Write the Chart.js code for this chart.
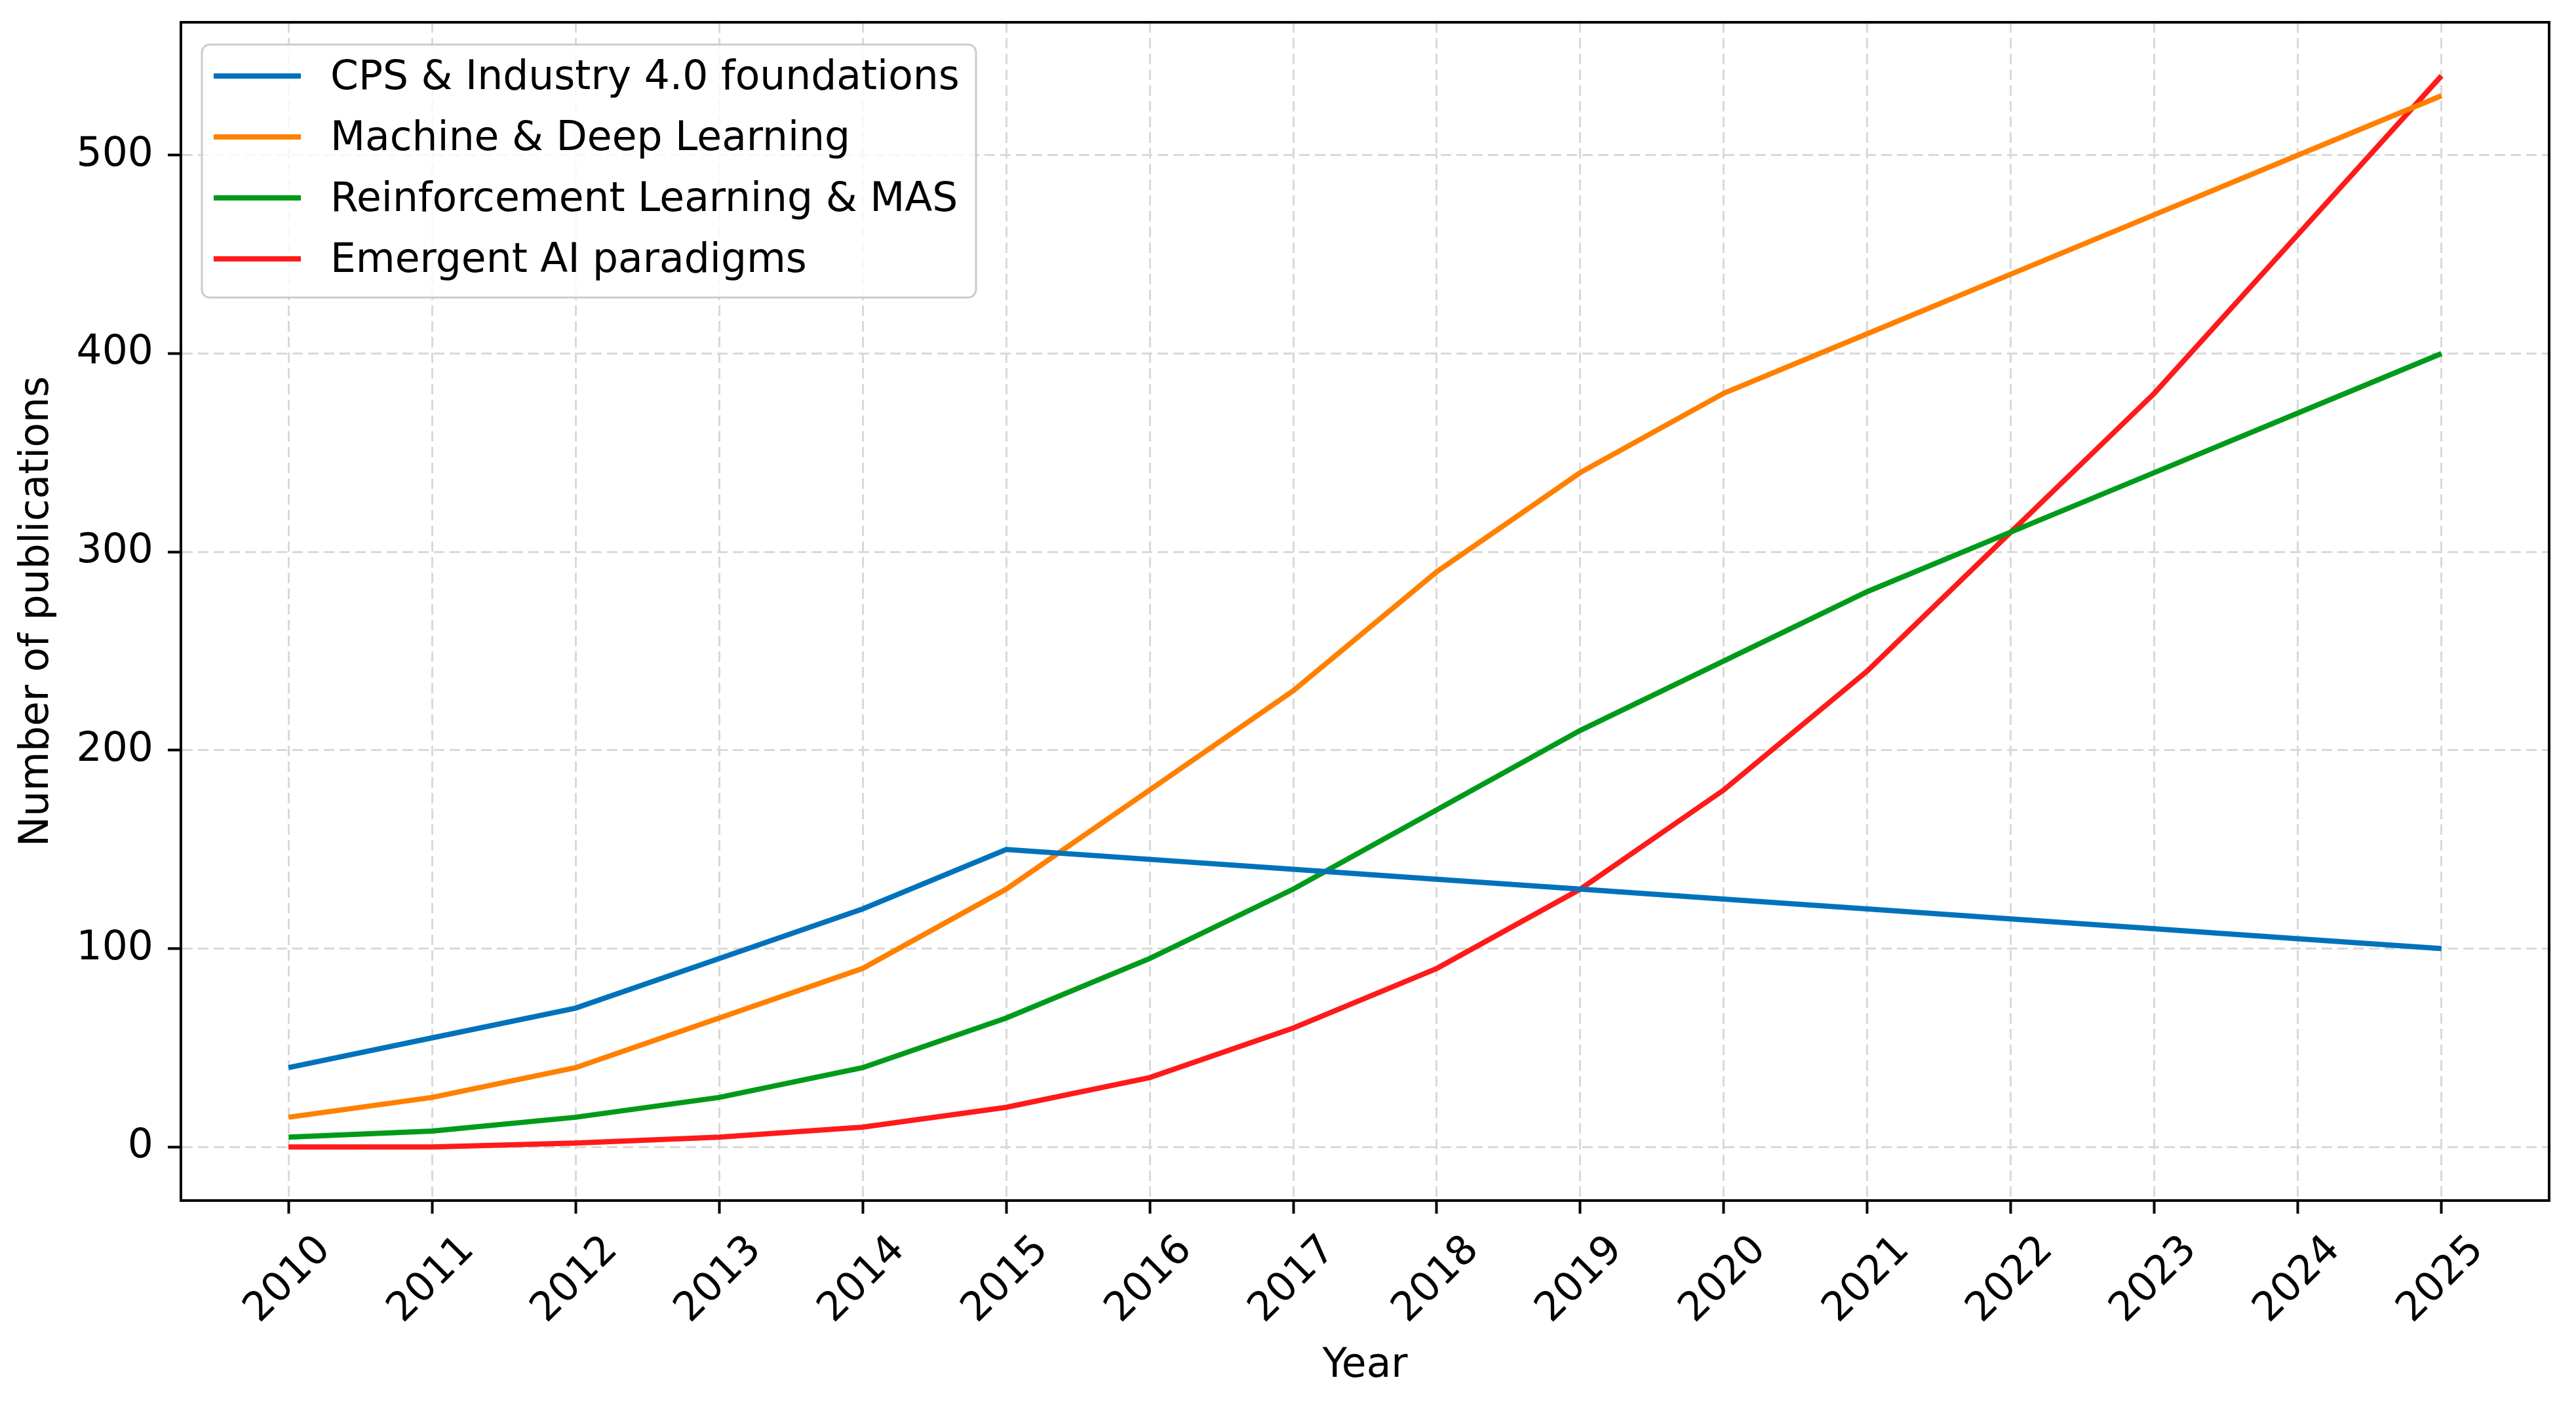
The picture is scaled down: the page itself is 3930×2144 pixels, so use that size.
<!DOCTYPE html>
<html>
<head>
<meta charset="utf-8">
<script src="https://cdn.jsdelivr.net/npm/chart.js@4.4.1/dist/chart.umd.min.js"></script>
<style>
  html, body { margin: 0; padding: 0; background: #fff; }
  #wrap { width: 3930px; height: 2144px; }
</style>
</head>
<body>
<div id="wrap"><canvas id="pubChart" width="3930" height="2144"></canvas></div>
<script>
// --- data ---
const years = [2010, 2011, 2012, 2013, 2014, 2015, 2016, 2017, 2018, 2019, 2020, 2021, 2022, 2023, 2024, 2025];
const cpsFoundations = [40, 55, 70, 95, 120, 150, 145, 140, 135, 130, 125, 120, 115, 110, 105, 100];
const machineDeep = [15, 25, 40, 65, 90, 130, 180, 230, 290, 340, 380, 410, 440, 470, 500, 530];
const reinforcementMas = [5, 8, 15, 25, 40, 65, 95, 130, 170, 210, 245, 280, 310, 340, 370, 400];
const emergentAi = [0, 0, 2, 5, 10, 20, 35, 60, 90, 130, 180, 240, 310, 380, 460, 540];
const yTicks = [0, 100, 200, 300, 400, 500];

const seriesNames = ['CPS & Industry 4.0 foundations', 'Machine & Deep Learning', 'Reinforcement Learning & MAS', 'Emergent AI paradigms'];
const seriesColors = ['#0072BB', '#FF8000', '#009A1A', '#FF1A1A'];
const seriesValues = [cpsFoundations, machineDeep, reinforcementMas, emergentAi];

const FONT = '"DejaVu Sans", sans-serif';
const FSIZE = 61.5;

// top + right edges of the frame (chart.js only draws left/bottom)
const framePlugin = {
    id: 'frame',
    afterDatasetsDraw(chart) {
        const { ctx, chartArea: a } = chart;
        ctx.save();
        ctx.strokeStyle = '#000';
        ctx.lineWidth = 4;
        ctx.strokeRect(a.left, a.top, a.right - a.left, a.bottom - a.top);
        ctx.restore();
    }
};

// matplotlib style legend box in the upper left
const legendPlugin = {
    id: 'mplLegend',
    afterDraw(chart) {
        const { ctx } = chart;
        const x0 = 308, y0 = 68, w = 1181, h = 386, r = 12;
        ctx.save();
        ctx.beginPath();
        ctx.roundRect(x0, y0, w, h, r);
        ctx.fillStyle = 'rgba(255,255,255,0.8)';
        ctx.fill();
        ctx.strokeStyle = '#cccccc';
        ctx.lineWidth = 3;
        ctx.stroke();
        ctx.font = FSIZE + 'px ' + FONT;
        ctx.textBaseline = 'middle';
        ctx.fillStyle = '#000';
        chart.data.datasets.forEach((ds, i) => {
            const cy = 116 + i * 93;
            ctx.beginPath();
            ctx.moveTo(326, cy);
            ctx.lineTo(459, cy);
            ctx.strokeStyle = ds.borderColor;
            ctx.lineWidth = 8;
            ctx.stroke();
            ctx.fillText(ds.label, 504, cy + 4);
        });
        ctx.restore();
    }
};

// keep chart area fixed: no extra padding from tick labels
function fixPad(axis) {
    axis.paddingTop = 0;
    axis.paddingBottom = 0;
    axis.paddingLeft = 0;
    axis.paddingRight = 0;
}

const ctx = document.getElementById('pubChart').getContext('2d');
new Chart(ctx, {
    type: 'line',
    data: {
        datasets: seriesNames.map((name, i) => ({
            label: name,
            data: years.map((y, j) => ({ x: y, y: seriesValues[i][j] })),
            borderColor: seriesColors[i],
            backgroundColor: seriesColors[i],
            borderWidth: 8,
            pointRadius: 0,
            tension: 0,
            fill: false
        }))
    },
    options: {
        responsive: false,
        animation: false,
        layout: { padding: { left: 0, top: 34, right: 41, bottom: 0 } },
        plugins: {
            legend: { display: false },
            tooltip: { enabled: false }
        },
        scales: {
            x: {
                type: 'linear',
                min: 2009.25,
                max: 2025.75,
                afterBuildTicks: axis => { axis.ticks = years.map(v => ({ value: v })); },
                afterFit: axis => { axis.height = 312; fixPad(axis); },
                ticks: {
                    color: '#000',
                    font: { family: FONT, size: FSIZE },
                    minRotation: 45,
                    maxRotation: 45,
                    padding: 20,
                    labelOffset: 55,
                    callback: v => String(v)
                },
                grid: {
                    color: '#d9d9d9',
                    lineWidth: 3,
                    tickColor: '#000',
                    tickWidth: 4,
                    tickLength: 20
                },
                border: { display: true, color: '#000', width: 4, dash: [16, 8] },
                title: {
                    display: true,
                    text: 'Year',
                    color: '#000',
                    font: { family: FONT, size: FSIZE },
                    padding: { top: 0, bottom: 22 }
                }
            },
            y: {
                min: -27,
                max: 567,
                afterBuildTicks: axis => { axis.ticks = yTicks.map(v => ({ value: v })); },
                afterFit: axis => { axis.width = 276; fixPad(axis); },
                ticks: {
                    color: '#000',
                    font: { family: FONT, size: FSIZE },
                    padding: 22
                },
                grid: {
                    color: '#d9d9d9',
                    lineWidth: 3,
                    tickColor: '#000',
                    tickWidth: 4,
                    tickLength: 20
                },
                border: { display: true, color: '#000', width: 4, dash: [16, 8] },
                title: {
                    display: true,
                    text: 'Number of publications',
                    color: '#000',
                    font: { family: FONT, size: FSIZE },
                    padding: { top: 20, bottom: 0 }
                }
            }
        }
    },
    plugins: [framePlugin, legendPlugin]
});
</script>
</body>
</html>
